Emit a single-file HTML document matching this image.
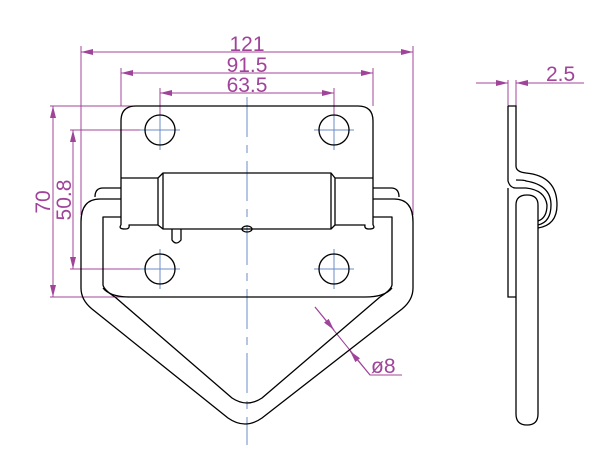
<!DOCTYPE html>
<html><head><meta charset="utf-8"><style>
html,body{margin:0;padding:0;background:#fff;}
svg{display:block;}
text{font-family:"Liberation Sans",sans-serif;fill:#a0449a;}
</style></head><body>
<svg width="615" height="453" viewBox="0 0 615 453" xmlns="http://www.w3.org/2000/svg">
<defs>
<marker id="a" markerWidth="12" markerHeight="6" refX="12" refY="3" orient="auto" markerUnits="userSpaceOnUse"><path d="M0,0 L12,3 L0,6 z" fill="#a0449a"/></marker>
<marker id="b" markerWidth="12" markerHeight="6" refX="0" refY="3" orient="auto" markerUnits="userSpaceOnUse"><path d="M12,0 L0,3 L12,6 z" fill="#a0449a"/></marker>
</defs>
<g stroke="#6b8cc8" stroke-width="1" fill="none">
<line x1="247" y1="97" x2="247" y2="445" stroke-dasharray="40,8,8,8"/>
<g>
<line x1="140" y1="130" x2="180" y2="130"/><line x1="160" y1="114" x2="160" y2="150"/>
<line x1="314" y1="130" x2="354" y2="130"/><line x1="334" y1="114" x2="334" y2="150"/>
<line x1="140" y1="269" x2="180" y2="269"/><line x1="160" y1="249" x2="160" y2="289"/>
<line x1="314" y1="269" x2="354" y2="269"/><line x1="334" y1="249" x2="334" y2="289"/>
</g>
</g>
<g stroke="#a0449a" stroke-width="1" fill="none">
<line x1="81" y1="46" x2="81" y2="215"/><line x1="413" y1="46" x2="413" y2="215"/>
<line x1="81" y1="52" x2="413" y2="52" marker-start="url(#b)" marker-end="url(#a)"/>
<line x1="121" y1="68" x2="121" y2="106"/><line x1="373" y1="68" x2="373" y2="106"/>
<line x1="121" y1="73" x2="373" y2="73" marker-start="url(#b)" marker-end="url(#a)"/>
<line x1="160" y1="88" x2="160" y2="115"/><line x1="334" y1="88" x2="334" y2="115"/>
<line x1="160" y1="93" x2="334" y2="93" marker-start="url(#b)" marker-end="url(#a)"/>
<line x1="50" y1="106" x2="137" y2="106"/><line x1="50" y1="297" x2="137" y2="297"/>
<line x1="53" y1="106" x2="53" y2="297" marker-start="url(#b)" marker-end="url(#a)"/>
<line x1="70" y1="130" x2="140" y2="130"/><line x1="70" y1="269" x2="140" y2="269"/>
<line x1="73" y1="130" x2="73" y2="269" marker-start="url(#b)" marker-end="url(#a)"/>
<path d="M315,307 L370,375 L402,375"/>
<line x1="315" y1="307" x2="334" y2="330" marker-end="url(#a)"/>
<line x1="370" y1="375" x2="350" y2="351" marker-end="url(#a)"/>
<line x1="508" y1="80" x2="508" y2="106"/><line x1="516" y1="80" x2="516" y2="106"/>
<line x1="476" y1="83" x2="508" y2="83" marker-end="url(#a)"/>
<line x1="584" y1="83" x2="516" y2="83" marker-end="url(#a)"/>
</g>
<text x="247" y="51" font-size="21" text-anchor="middle">121</text>
<text x="247" y="72" font-size="21" text-anchor="middle">91.5</text>
<text x="247" y="92" font-size="21" text-anchor="middle">63.5</text>
<text transform="translate(50,202) rotate(-90)" font-size="21" text-anchor="middle">70</text>
<text transform="translate(71,200) rotate(-90)" font-size="21" text-anchor="middle">50.8</text>
<text x="371" y="373" font-size="21">ø8</text>
<text x="546" y="81" font-size="21">2.5</text>
<g stroke="#000" stroke-width="1.3" fill="none" stroke-linejoin="round">
<path d="M121,199 L100,199 Q81,199 81,222 L81,288 Q81,300 92,309 L228,418 Q245,430 262,418 L402,309 Q413,300 413,288 L413,222 Q413,199 394,199 L373,199"/>
<path d="M121,188 L103,188 Q95,188 95,197"/>
<path d="M373,188 L391,188 Q399,188 399,197"/>
<path d="M121,217 L103,217 L103,285 Q104,290 115,297 L232,398 Q247,408 262,398 L380,297 Q391,290 392,285 L392,217 L373,217"/>
<path d="M103,288 Q110,297 130,297 L365,297 Q385,297 392,288"/>
<path d="M121,225 L121,121 Q121,106 136,106 L358,106 Q373,106 373,121 L373,225"/>
<path d="M121,225 Q118,229 125,229 Q130,229 129,225 L158,225"/>
<path d="M373,225 Q376,229 369,229 Q364,229 365,225 L335,225"/>
<line x1="121" y1="178" x2="158" y2="178"/><line x1="373" y1="178" x2="335" y2="178"/>
<path d="M158,178 L163,173 L331,173 L335,178 L335,225 L331,229 L163,229 L158,225 Z"/>
<line x1="163" y1="173" x2="163" y2="229"/><line x1="331" y1="173" x2="331" y2="229"/>
<ellipse cx="247" cy="229" rx="5" ry="3"/>
<path d="M172,229 L172,240 Q176,246 181,240 L181,229"/>
<circle cx="160" cy="130" r="15"/><circle cx="334" cy="130" r="15"/>
<circle cx="160" cy="269" r="15"/><circle cx="334" cy="269" r="15"/>
</g>
<g stroke="#000" stroke-width="1.3" fill="none">
<path d="M508,106 L516,106 L516,166 Q516,172 526,173 Q557,176 557,205 Q557,225 538,228"/>
<path d="M508,106 L508,181 Q510,188 516,188 L526,188 Q545,190 547,205 Q547,218 538,221"/>
<path d="M516,180 Q525,180 526,181 Q551,185 551,205 Q551,222 538,225"/>
<path d="M508,188 L508,297 L516,297"/>
<path d="M516,205 Q516,195 527,195 Q538,195 538,205 L538,414 Q538,425 527,425 Q516,425 516,414 Z"/>
</g>
</svg>
</body></html>
